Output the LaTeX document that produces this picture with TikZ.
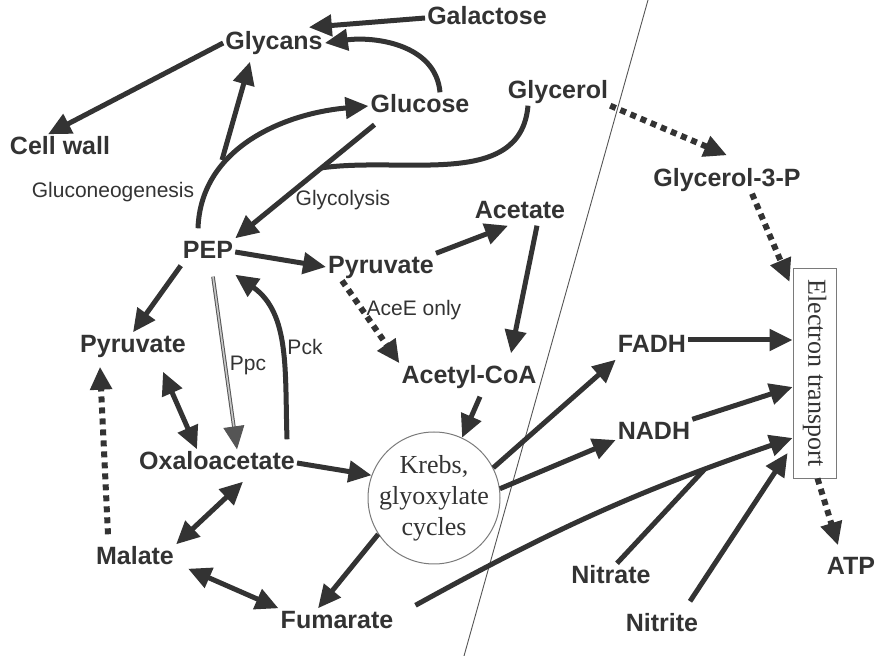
\documentclass[tikz,border=0pt]{standalone}
\usepackage{fontspec}
\setmainfont{Liberation Sans}
\newfontfamily\bookface{Liberation Serif}
\usepackage{tikz}
\usetikzlibrary{arrows.meta}
\definecolor{MBInk}{HTML}{333333}
\definecolor{MBGrey}{HTML}{7A7A7A}
\definecolor{MBPale}{HTML}{C8C8C8}
\definecolor{MBLine}{HTML}{555555}

\begin{document}
\begin{tikzpicture}[x=1pt,y=1pt,
  >={Triangle[length=23pt,width=21pt]},
  metab/.style={font=\fontsize{25}{28}\selectfont\bfseries,text=MBInk,inner sep=2pt,text height=18pt,text depth=5pt},
  enzyme/.style={font=\fontsize{21}{24}\selectfont,text=MBInk,inner sep=1pt},
  flux/.style={draw=MBInk,line width=5pt,->},
  both/.style={draw=MBInk,line width=5pt,<->},
  weak/.style={draw=MBInk,line width=6pt,dash pattern=on 6pt off 5pt,->},
  plain/.style={draw=MBInk,line width=5pt},
  ppcline/.style={draw=MBLine,line width=1pt,double=MBPale,double distance=1.6pt,->},
  krebsring/.style={circle,draw=MBGrey,line width=1pt,minimum size=132pt,inner sep=0pt},
  etbox/.style={draw=MBGrey,line width=0.8pt,rotate=-90,minimum width=210pt,minimum height=43pt,inner sep=0pt,text=MBInk,font=\bookface\fontsize{26}{30}\selectfont}]
\path[use as bounding box] (0,0) rectangle (879,656);
\coordinate (memtop) at (648,656);
\coordinate (membot) at (464,0);
\draw[MBLine,line width=0.9pt] (memtop) -- (membot);

\node[metab] (gal) at (487,638) {Galactose};
\node[metab] (gly) at (274,613) {Glycans};
\node[metab] (glu) at (420,550) {Glucose};
\node[metab] (glyc) at (558,564) {Glycerol};
\node[metab] (cw) at (60,508) {Cell wall};
\node[enzyme] (gng) at (113,464) {Gluconeogenesis};
\node[enzyme] (glyco) at (343,456) {Glycolysis};
\node[metab] (pep) at (208,404) {PEP};
\node[metab] (pyrA) at (381,389) {Pyruvate};
\node[metab] (acet) at (520,444) {Acetate};
\node[metab] (g3p) at (727,476) {Glycerol-3-P};
\node[enzyme] (acee) at (414,346) {AceE only};
\node[metab] (pyrB) at (133,310) {Pyruvate};
\node[enzyme] (ppc) at (248,291) {Ppc};
\node[enzyme] (pck) at (305,309) {Pck};
\node[metab] (acoa) at (469,279) {Acetyl-CoA};
\node[metab] (fadh) at (652,310) {FADH};
\node[metab] (nadh) at (654,223) {NADH};
\node[metab] (oaa) at (217,193) {Oxaloacetate};
\node[krebsring,label={[font=\bookface\fontsize{26}{31}\selectfont,text=MBInk,align=center]center:Krebs,\\glyoxylate\\cycles}] (krebs) at (434,158) {};
\node[metab] (mal) at (135,98) {Malate};
\node[metab] (fum) at (337,34) {Fumarate};
\node[metab] (no3) at (611,79) {Nitrate};
\node[metab] (no2) at (662,31) {Nitrite};
\node[metab] (atp) at (851,88) {ATP};
\node[etbox] (et) at (814.5,283) {Electron transport};

\draw[flux] (gal.west) -- ([shift={(-16pt,2pt)}]gly.north east);
\draw[flux] ([xshift=20pt]glu.north) to[out=95,in=8] (gly.east);
\draw[flux] (gly.west) -- ([xshift=-12pt]cw.north);
\draw[flux] ([shift={(-10pt,10pt)}]pep.north) to[out=88,in=185] (glu.west);
\coordinate (gngfork) at (222,496);
\draw[flux] (gngfork) -- ([shift={(-24pt,-5pt)}]gly.south);
\draw[flux] ([shift={(6pt,-5pt)}]glu.south west) -- coordinate[pos=0.38] (glyjoin) (pep.north east);
\draw[plain] ([xshift=-30pt]glyc.south) to[out=-95,in=8] (glyjoin);
\draw[flux] (pep.east) -- (pyrA.west);
\draw[flux] (pyrA.north east) -- ([xshift=-12pt]acet.south);
\draw[flux] ([xshift=17pt]acet.south) -- ([shift={(42pt,10pt)}]acoa.north);
\draw[weak] ([xshift=-39pt]pyrA.south) -- (acoa.north west);
\draw[weak] (glyc.south east) -- ([yshift=11pt]g3p.north);
\draw[weak] ([xshift=25pt]g3p.south) -- ([shift={(-3pt,91pt)}]et.south);
\draw[weak] ([xshift=3pt]et.east) -- ([shift={(-13pt,9pt)}]atp.north);

\draw[flux] (pep.south west) -- (pyrB.north);
\draw[ppcline] ([shift={(5pt,-11pt)}]pep.south) -- ([xshift=20pt]oaa.north);
\draw[flux] ([shift={(-10pt,10pt)}]oaa.north east) to[out=92,in=-35] ([yshift=-9pt]pep.south east);
\draw[both] ([shift={(30pt,-12pt)}]pyrB.south) -- ([xshift=-20pt]oaa.north);
\draw[weak] ([shift={(-27pt,10pt)}]mal.north) -- ([shift={(-33pt,-7pt)}]pyrB.south);
\draw[flux] (oaa.east) -- (krebs.160);
\draw[flux] ([shift={(11pt,-6pt)}]acoa.south) -- (krebs.65);
\draw[both] ([shift={(26pt,-5pt)}]oaa.south) -- (mal.north east);
\draw[both] ([shift={(12pt,3pt)}]mal.south east) -- (fum.north west);
\draw[flux] (krebs.213) -- ([xshift=-19pt]fum.north);
\draw[flux] (krebs.27) -- (fadh.south west);
\draw[flux] (krebs.8) -- ([yshift=-7pt]nadh.west);
\draw[flux] ([yshift=6pt]fadh.east) -- ([yshift=33pt]et.south);
\draw[flux] (nadh.north east) -- ([yshift=-14pt]et.south);
\draw[flux] ([shift={(20pt,3pt)}]fum.north east) to[bend left=5] coordinate[pos=0.79] (no3join) ([yshift=-65pt]et.south);
\draw[plain] ([xshift=6pt]no3.north) -- (no3join);
\draw[flux] ([shift={(28pt,10pt)}]no2.north) -- ([shift={(-5pt,-80pt)}]et.south);
\end{tikzpicture}
\end{document}
